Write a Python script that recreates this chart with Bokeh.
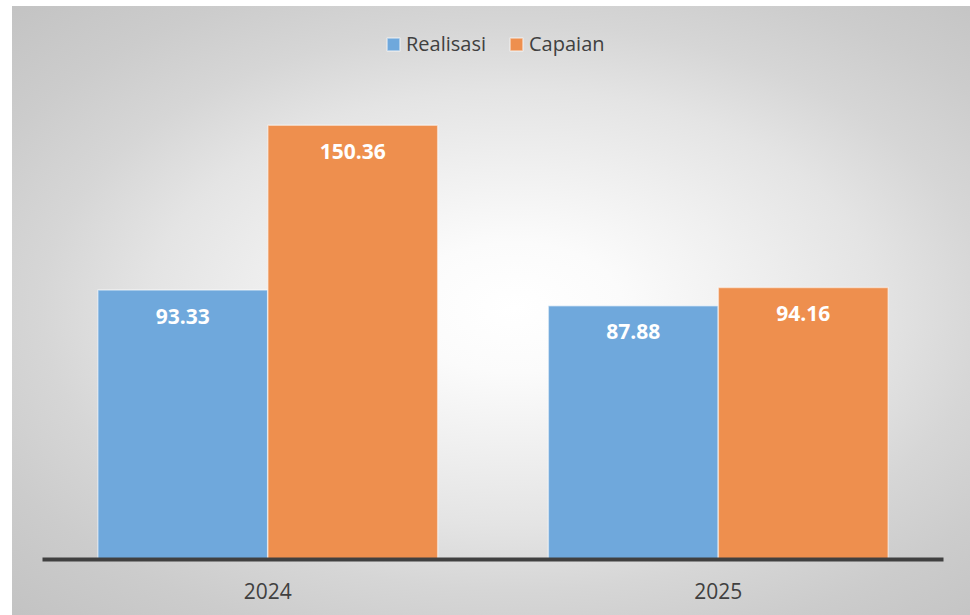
from bokeh.plotting import figure
from bokeh.models import ColumnDataSource, FactorRange, Range1d, LabelSet, Legend, LegendItem
from bokeh.core.properties import value
from bokeh.transform import dodge
from bokeh.embed import file_html
from bokeh.resources import INLINE

years = ["2024", "2025"]
realisasi = [93.33, 87.88]
capaian = [150.36, 94.16]
series_names = ["Realisasi", "Capaian"]
colors = ["#6fa8dc", "#ee8f4e"]

src = ColumnDataSource(dict(
    year=years,
    realisasi=realisasi,
    capaian=capaian,
    rl=[f"{v:.2f}" for v in realisasi],
    cl=[f"{v:.2f}" for v in capaian],
))

p = figure(
    x_range=FactorRange(*years, range_padding=0),
    y_range=Range1d(0, 183.2),
    width=970, height=615,
    frame_width=901, frame_height=529,
    min_border_left=42, min_border_right=27,
    min_border_top=30, min_border_bottom=56,
    output_backend="svg", toolbar_location=None,
)
p.border_fill_color = None
p.background_fill_color = None
p.outline_line_color = None
p.styles = {
    "background": "linear-gradient(to right, #ffffff 12px, transparent 12px), "
                  "linear-gradient(to bottom, #ffffff 6px, transparent 6px), "
                  "radial-gradient(ellipse farthest-corner at 53% 50%, #ffffff 0%, #fbfbfb 15%, "
                  "#eeeeee 35%, #e4e4e4 50%, #d6d6d6 65%, #cccccc 80%, #c2c2c2 100%)"
}

off = 0.1887
w = 0.377
r1 = p.vbar(x=dodge("year", -off, range=p.x_range), top="realisasi", bottom=0, width=w,
            source=src, fill_color=colors[0], line_color="#ffffff", line_alpha=0.5, line_width=1.5)
r2 = p.vbar(x=dodge("year", off, range=p.x_range), top="capaian", bottom=0, width=w,
            source=src, fill_color=colors[1], line_color="#ffffff", line_alpha=0.5, line_width=1.5)

for fld, txt, o in [("realisasi", "rl", -off), ("capaian", "cl", off)]:
    lab = LabelSet(x=dodge("year", o, range=p.x_range), y=fld, text=txt, source=src,
                   y_offset=-26, text_align="center", text_baseline="middle",
                   text_color="#ffffff", text_font=value("Open Sans"), text_font_style="bold",
                   text_font_size="21px")
    p.add_layout(lab)

legend = Legend(items=[LegendItem(label=series_names[0], renderers=[r1]),
                       LegendItem(label=series_names[1], renderers=[r2])],
                location=(343, 502), orientation="horizontal",
                glyph_width=16, glyph_height=16, label_standoff=5, spacing=22,
                padding=0, margin=0, border_line_color=None, background_fill_color=None,
                label_text_font="Open Sans", label_text_font_size="20px",
                label_text_color="#404040", label_height=20)
p.add_layout(legend, "center")

p.yaxis.visible = False
p.xgrid.visible = False
p.ygrid.visible = False
xa = p.xaxis[0]
xa.axis_line_color = "#404040"
xa.axis_line_width = 4
xa.major_tick_line_color = None
xa.minor_tick_line_color = None
xa.major_label_standoff = 17
xa.major_label_text_font = "Open Sans"
xa.major_label_text_font_size = "21px"
xa.major_label_text_color = "#404040"

open("out.html", "w").write(file_html(p, INLINE))
